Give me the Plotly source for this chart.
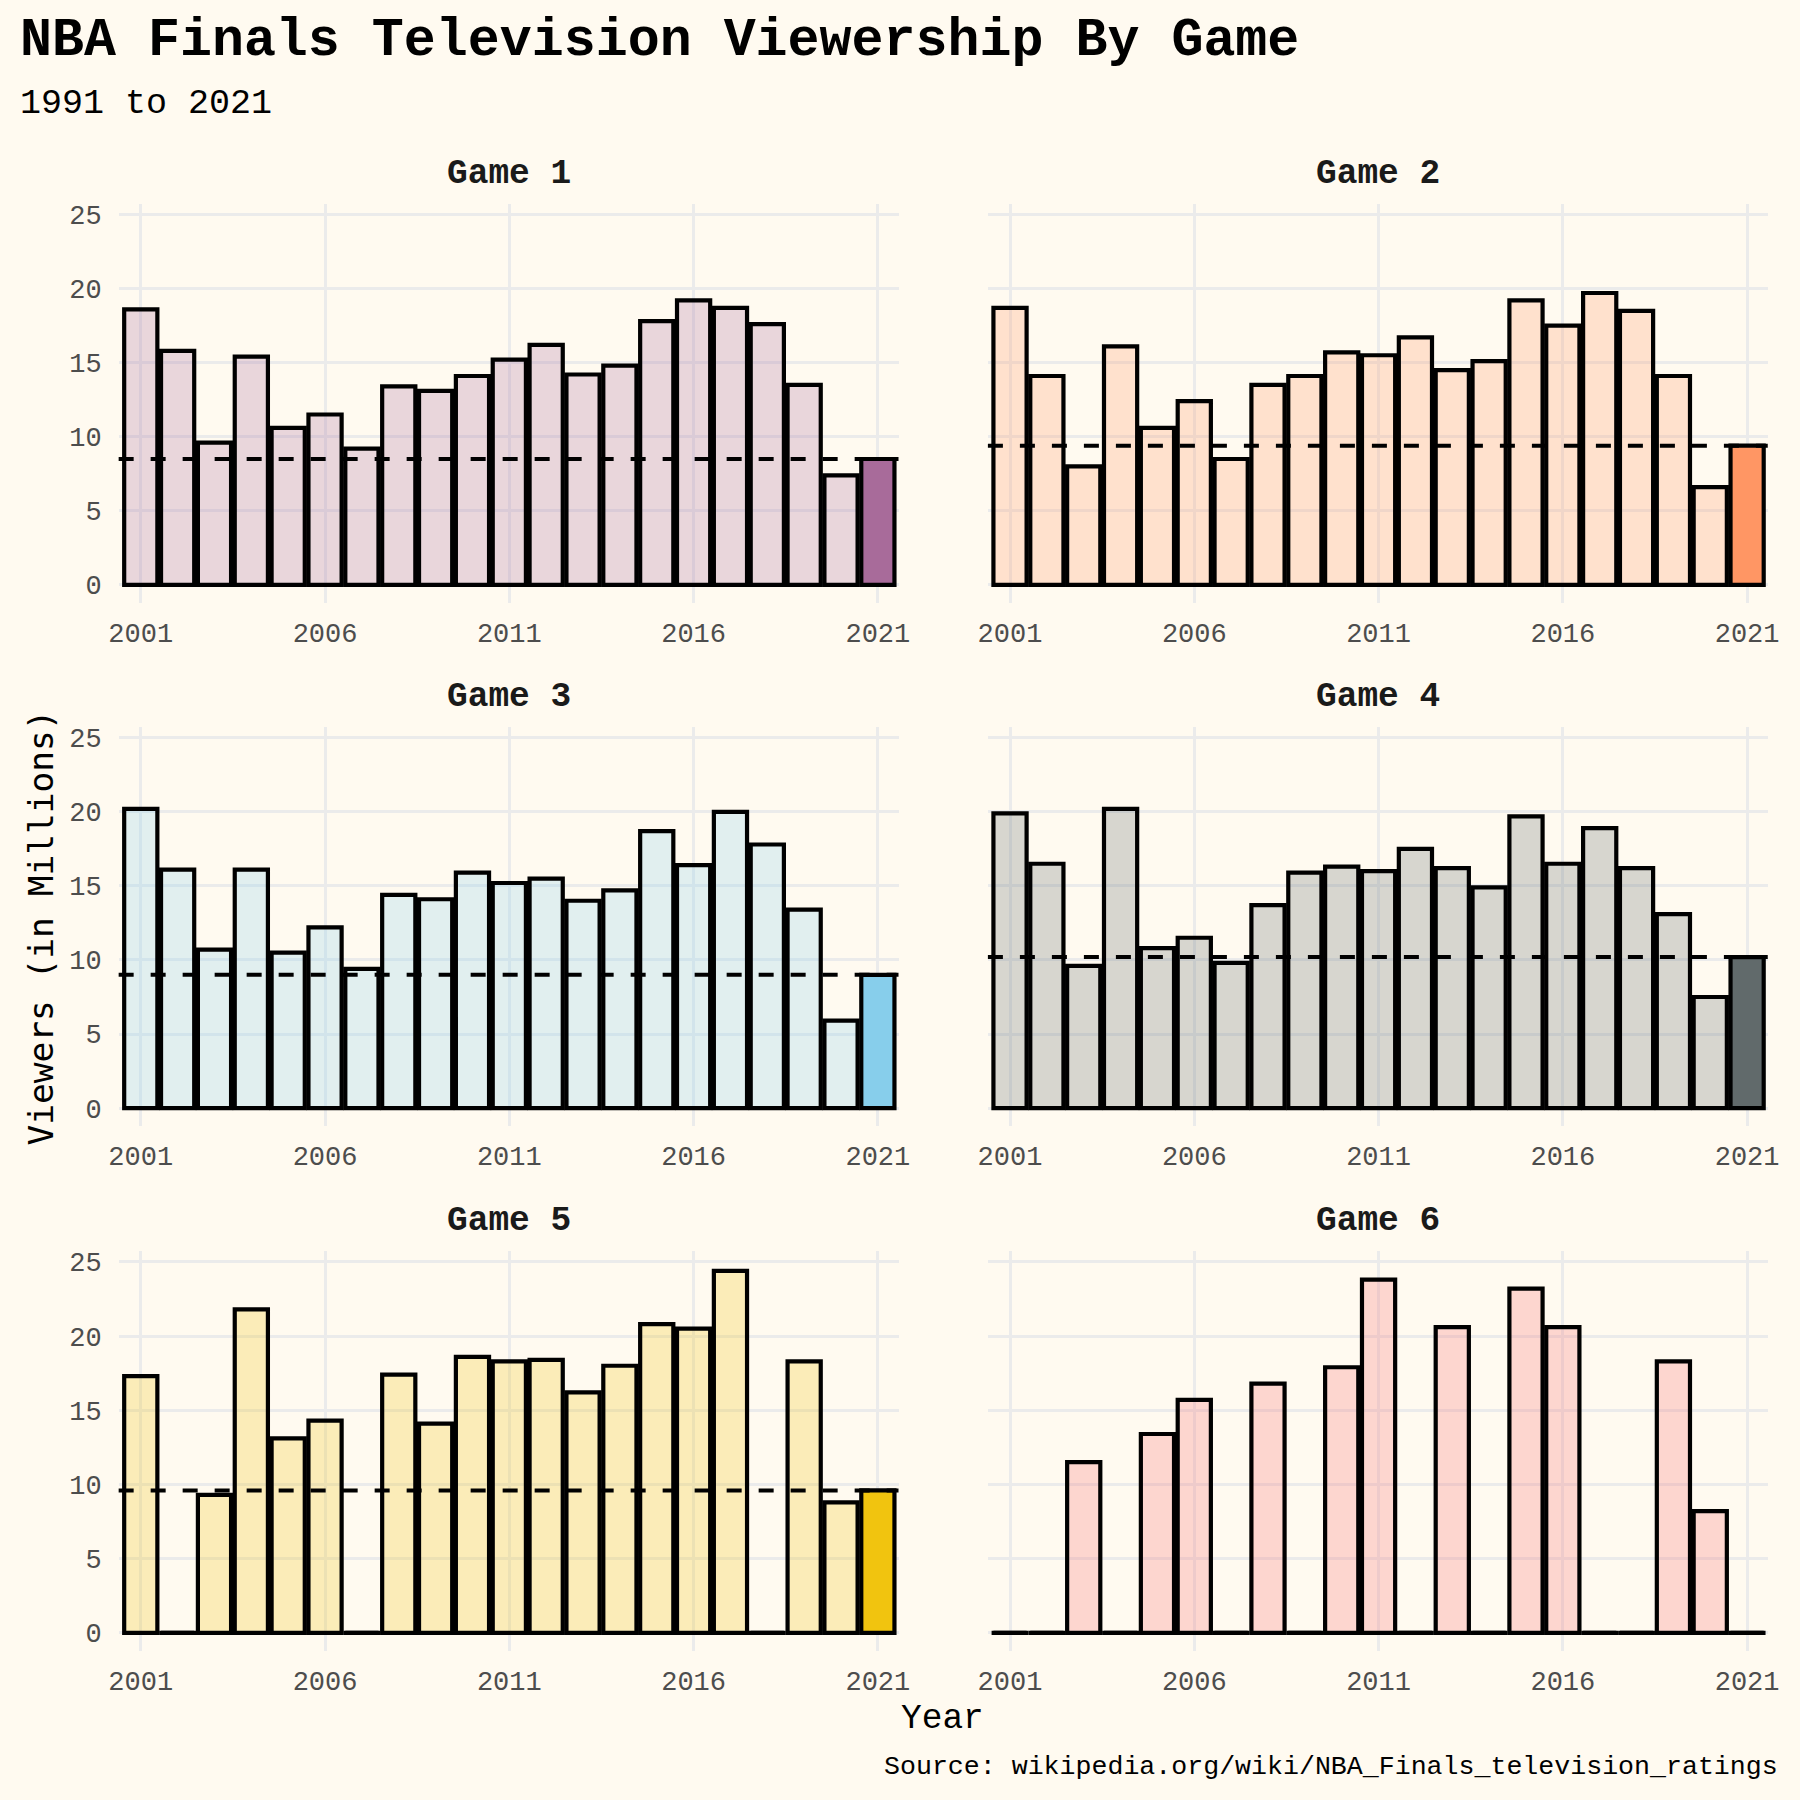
import plotly.graph_objects as go

years = list(range(2001, 2022))

game1 = [18.6, 15.8, 9.6, 15.4, 10.6, 11.5, 9.2, 13.4, 13.1, 14.1, 15.2, 16.2, 14.2, 14.8, 17.8, 19.2, 18.7, 17.6, 13.5, 7.4, 8.5]
game2 = [18.7, 14.1, 8.0, 16.1, 10.6, 12.4, 8.5, 13.5, 14.1, 15.7, 15.5, 16.7, 14.5, 15.1, 19.2, 17.5, 19.7, 18.5, 14.1, 6.6, 9.4]
game3 = [20.2, 16.1, 10.7, 16.1, 10.5, 12.2, 9.4, 14.4, 14.1, 15.9, 15.2, 15.5, 14.0, 14.7, 18.7, 16.4, 20.0, 17.8, 13.4, 5.9, 9.0]
game4 = [19.9, 16.5, 9.6, 20.2, 10.8, 11.5, 9.8, 13.7, 15.9, 16.3, 16.0, 17.5, 16.2, 14.9, 19.7, 16.5, 18.9, 16.2, 13.1, 7.5, 10.2]
game5 = [17.3, 0, 9.3, 21.8, 13.1, 14.3, 0, 17.4, 14.1, 18.6, 18.3, 18.4, 16.2, 18.0, 20.8, 20.5, 24.4, 0, 18.3, 8.8, 9.6]
game6 = [0, 0, 11.5, 0, 13.4, 15.7, 0, 16.8, 0, 17.9, 23.8, 0, 20.6, 0, 23.2, 20.6, 0, 0, 18.3, 8.2, 0]

game_names = ["Game 1", "Game 2", "Game 3", "Game 4", "Game 5", "Game 6"]
game_values = [game1, game2, game3, game4, game5, game6]
highlight_rgb = [(168, 107, 154), (255, 150, 100), (135, 206, 235), (97, 106, 107), (241, 196, 15), (247, 108, 108)]

x_ticks = [2001, 2006, 2011, 2016, 2021]
y_ticks = [0, 5, 10, 15, 20, 25]

title_text = "NBA Finals Television Viewership By Game"
subtitle_text = "1991 to 2021"
caption_text = "Source: wikipedia.org/wiki/NBA_Finals_television_ratings"
x_title = "Year"
y_title = "Viewers (in Millions)"

BG = "#FFFAF0"
FONT = "Liberation Mono"
W = H = 1800

cols_px = [(110, 899.5), (990, 1779.5)]
rows_px = [(202, 601.7), (726, 1125.4), (1250.6, 1650.8)]

fig = go.Figure()
layout = dict(
    width=W, height=H, autosize=False,
    margin=dict(l=0, r=0, t=0, b=0),
    paper_bgcolor=BG, plot_bgcolor=BG,
    showlegend=False, barmode="overlay",
    font=dict(family=FONT),
)
annotations = []
shapes = []

for i, (name, vals, rgb) in enumerate(zip(game_names, game_values, highlight_rgb)):
    r, c = divmod(i, 2)
    idx = i + 1
    xa = "x" if idx == 1 else f"x{idx}"
    ya = "y" if idx == 1 else f"y{idx}"
    colors = [
        f"rgb{rgb}" if yr == 2021 else f"rgba({rgb[0]},{rgb[1]},{rgb[2]},0.25)"
        for yr in years
    ]
    fig.add_trace(go.Bar(
        x=years, y=vals, width=0.9, xaxis=xa, yaxis=ya,
        marker=dict(color=colors, line=dict(color="black", width=4.2)),
        hoverinfo="x+y",
    ))
    # zero-valued years drawn as flat outline segments on the baseline
    zx, zy = [], []
    for yr, v in zip(years, vals):
        if v == 0:
            zx += [yr - 0.5, yr + 0.5, None]
            zy += [0, 0, None]
    if zx:
        fig.add_trace(go.Scatter(
            x=zx, y=zy, mode="lines", xaxis=xa, yaxis=ya,
            line=dict(color="black", width=4.2), hoverinfo="skip",
        ))
    ref = vals[years.index(2021)]
    if ref > 0:
        shapes.append(dict(
            type="line", xref=f"{xa} domain", yref=ya, x0=0, x1=1, y0=ref, y1=ref,
            line=dict(color="black", width=4, dash="15px,17px"), layer="above",
        ))
    l, rr = cols_px[c]
    t, b = rows_px[r]
    axis_x = dict(
        domain=[l / W, rr / W], range=[2000.4, 2021.56],
        tickvals=x_ticks, showgrid=True, gridcolor="#EBEBEB", gridwidth=2.5,
        zeroline=False, showline=False, ticks="",
        tickfont=dict(family=FONT, size=27, color="#4D4D4D"),
        ticklabelstandoff=11, anchor=ya, fixedrange=True,
    )
    axis_y = dict(
        domain=[1 - b / H, 1 - t / H], range=[-1.22, 25.72],
        tickvals=y_ticks, showgrid=True, gridcolor="#EBEBEB", gridwidth=2.5,
        zeroline=False, showline=False, ticks="",
        tickfont=dict(family=FONT, size=27, color="#4D4D4D"),
        showticklabels=(c == 0), ticklabelstandoff=16, anchor=xa, fixedrange=True,
    )
    layout["xaxis" if idx == 1 else f"xaxis{idx}"] = axis_x
    layout["yaxis" if idx == 1 else f"yaxis{idx}"] = axis_y
    annotations.append(dict(
        text=name, xref="paper", yref="paper",
        x=((l + rr) / 2) / W, y=1 - (t - 30.5) / H,
        xanchor="center", yanchor="middle", showarrow=False,
        font=dict(family=FONT, size=34.5, color="#1A1A1A", weight="bold"),
    ))

annotations += [
    dict(text=title_text, xref="paper", yref="paper", x=8 / W, y=1 - 39 / H,
         xanchor="left", yanchor="middle", showarrow=False,
         font=dict(family=FONT, size=53.3, color="black", weight="bold")),
    dict(text=subtitle_text, xref="paper", yref="paper", x=8 / W, y=1 - 102 / H,
         xanchor="left", yanchor="middle", showarrow=False,
         font=dict(family=FONT, size=35, color="black")),
    dict(text=y_title, xref="paper", yref="paper", x=31 / W, y=1 - 927 / H,
         xanchor="center", yanchor="middle", textangle=-90, showarrow=False,
         font=dict(family="DejaVu Sans Mono", size=34.5, color="black")),
    dict(text=x_title, xref="paper", yref="paper", x=944.5 / W, y=1 - 1718.5 / H,
         xanchor="center", yanchor="middle", showarrow=False,
         font=dict(family=FONT, size=34.5, color="black")),
    dict(text=caption_text, xref="paper", yref="paper", x=1792 / W, y=1 - 1766.5 / H,
         xanchor="right", yanchor="middle", showarrow=False,
         font=dict(family=FONT, size=26.6, color="black")),
]

layout["annotations"] = annotations
layout["shapes"] = shapes
fig.update_layout(**layout)
fig.write_html("out.html")
